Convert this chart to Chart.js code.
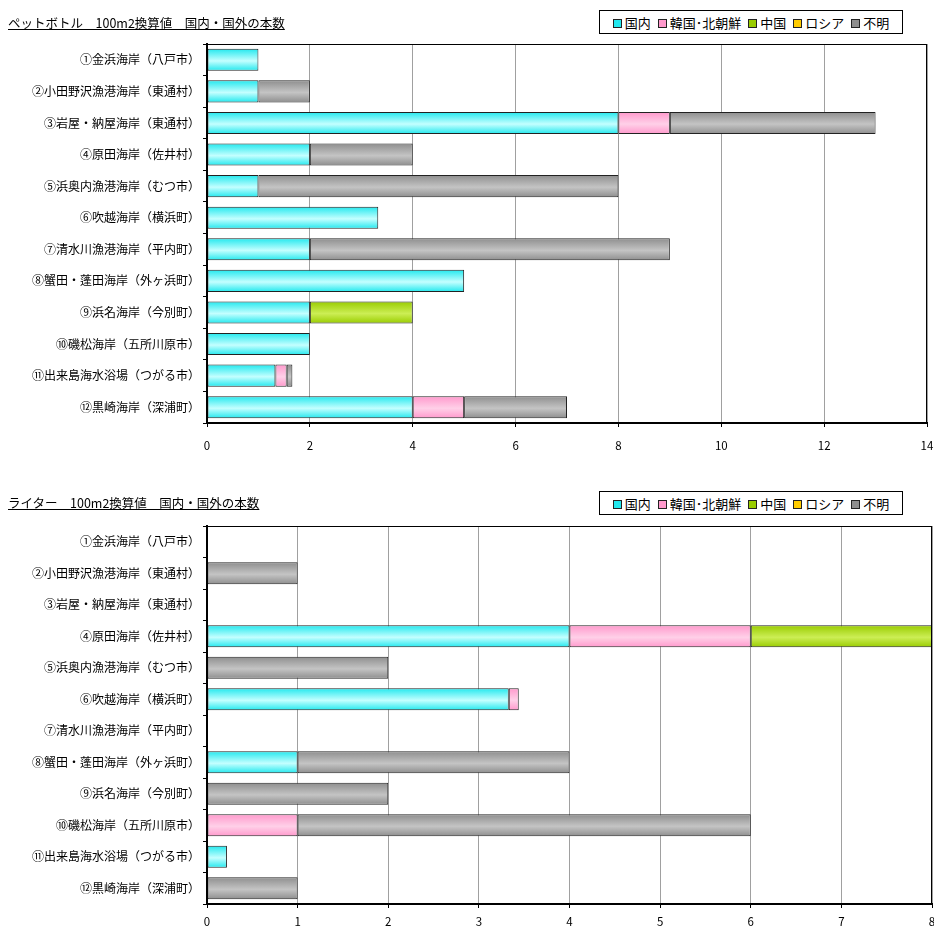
<!DOCTYPE html>
<html>
<head>
<meta charset="utf-8">
<script src="https://cdn.jsdelivr.net/npm/chart.js@4"></script>
<style>
  body { margin: 0; background: #fff; font-family: "Noto Sans CJK JP", sans-serif; overflow: hidden; }
  #page { position: relative; width: 934px; height: 930px; }
  .box { position: absolute; left: 0; width: 934px; height: 465px; }
  .title { position: absolute; left: 8px; font-size: 12.5px; text-decoration: underline; color: #000; white-space: pre; }
  .legend { position: absolute; left: 599px; width: 302px; height: 22px; border: 1px solid #000;
            font-size: 13px; display: flex; align-items: center; justify-content: center; gap: 7px; background: #fff; }
  .legend span.sq { display: inline-block; width: 7px; height: 7px; border: 1px solid #222; margin-right: 3px; vertical-align: 0px; }
</style>
</head>
<body>
<div id="page">
  <div class="box" style="top:0"><canvas id="petChart"></canvas></div>
  <div class="box" style="top:465px"><canvas id="lighterChart"></canvas></div>
  <div class="title" style="top:13px">ペットボトル　100m2換算値　国内・国外の本数</div>
  <div class="title" style="top:493px">ライター　100m2換算値　国内・国外の本数</div>
  <div class="legend" id="legend1" style="top:10px"></div>
  <div class="legend" id="legend2" style="top:491px"></div>
</div>
<script>
// categories (survey sites)
const sites = [
  "①金浜海岸（八戸市）",
  "②小田野沢漁港海岸（東通村）",
  "③岩屋・納屋海岸（東通村）",
  "④原田海岸（佐井村）",
  "⑤浜奥内漁港海岸（むつ市）",
  "⑥吹越海岸（横浜町）",
  "⑦清水川漁港海岸（平内町）",
  "⑧蟹田・蓬田海岸（外ヶ浜町）",
  "⑨浜名海岸（今別町）",
  "⑩磯松海岸（五所川原市）",
  "⑪出来島海水浴場（つがる市）",
  "⑫黒崎海岸（深浦町）"
];
const origins = ["国内", "韓国･北朝鮮", "中国", "ロシア", "不明"];

// ペットボトル values
const petDomestic = [1, 1, 8, 2, 1, 3.33, 2, 5, 2, 2, 1.33, 4];
const petKorea    = [0, 0, 1, 0, 0, 0, 0, 0, 0, 0, 0.22, 1];
const petChina    = [0, 0, 0, 0, 0, 0, 0, 0, 2, 0, 0, 0];
const petRussia   = [0, 0, 0, 0, 0, 0, 0, 0, 0, 0, 0, 0];
const petUnknown  = [0, 1, 4, 2, 7, 0, 7, 0, 0, 0, 0.11, 2];
const petTicks = [0, 2, 4, 6, 8, 10, 12, 14];

// ライター values
const ltDomestic = [0, 0, 0, 4, 0, 3.33, 0, 1, 0, 0, 0.22, 0];
const ltKorea    = [0, 0, 0, 2, 0, 0.11, 0, 0, 0, 1, 0, 0];
const ltChina    = [0, 0, 0, 2, 0, 0, 0, 0, 0, 0, 0, 0];
const ltRussia   = [0, 0, 0, 0, 0, 0, 0, 0, 0, 0, 0, 0];
const ltUnknown  = [0, 1, 0, 0, 2, 0, 0, 3, 2, 5, 0, 1];
const ltTicks = [0, 1, 2, 3, 4, 5, 6, 7, 8];

// base colour, light colour
const colors = [
  ["#22E8EE", "#C4FFFF"],
  ["#FF99CC", "#FFD0E8"],
  ["#99CC00", "#CCEE55"],
  ["#FFCC00", "#FFE680"],
  ["#8E8E8E", "#C4C4C4"]
];

const barPct = 0.7;

function gradient(c) {
  return (ctx) => {
    const chart = ctx.chart;
    const y = chart.scales && chart.scales.y;
    if (!y || ctx.type !== "data") return c[0];
    const cy = y.getPixelForValue(ctx.dataIndex);
    const h = (y.bottom - y.top) / chart.data.labels.length * barPct;
    if (!isFinite(cy) || !isFinite(h) || h <= 0) return c[0];
    const g = chart.ctx.createLinearGradient(0, cy - h / 2, 0, cy + h / 2);
    g.addColorStop(0, c[0]);
    g.addColorStop(0.55, c[1]);
    g.addColorStop(1, c[0]);
    return g;
  };
}

// plot frame on top & right
const framePlugin = {
  id: "frame",
  afterDraw(chart) {
    const a = chart.chartArea, c = chart.ctx;
    c.save();
    c.strokeStyle = "#000";
    c.lineWidth = 1;
    c.strokeRect(a.left + 0.5, a.top + 0.5, a.right - a.left - 1, a.bottom - a.top);
    c.restore();
  }
};

function makeChart(id, series, ticks, max, pad, xHeight, tickPad) {
  const datasets = series.map((d, i) => ({
    label: origins[i],
    data: d,
    backgroundColor: gradient(colors[i]),
    borderColor: "#222",
    borderWidth: (ctx) => (ctx.raw > 0 ? 1 : 0),
    borderSkipped: false,
    categoryPercentage: 1,
    barPercentage: barPct
  }));
  const chart = new Chart(document.getElementById(id), {
    type: "bar",
    data: { labels: sites, datasets: datasets },
    options: {
      indexAxis: "y",
      responsive: true,
      maintainAspectRatio: false,
      animation: false,
      layout: { padding: pad },
      plugins: { legend: { display: false }, tooltip: { enabled: false } },
      scales: {
        x: {
          stacked: true,
          min: 0,
          max: max,
          afterBuildTicks: (s) => { s.ticks = ticks.map(v => ({ value: v })); },
          afterFit: (s) => { s.height = xHeight; s.paddingRight = 0; s.paddingLeft = 0; },
          grid: { color: "#A0A0A0", lineWidth: 1, tickLength: 4, tickColor: "#000" },
          border: { color: "#000", width: 2 },
          ticks: { color: "#000", font: { size: 11.5, family: "Noto Sans CJK JP" }, padding: tickPad }
        },
        y: {
          stacked: true,
          afterFit: (s) => { s.width = 207; },
          grid: { offset: true, drawOnChartArea: false, tickLength: 4, tickColor: "#000" },
          border: { color: "#000", width: 2 },
          ticks: { color: "#000", font: { size: 12, family: "Noto Sans CJK JP" }, padding: 3 }
        }
      }
    },
    plugins: [framePlugin]
  });
  chart.update();
  return chart;
}

function buildLegend(id) {
  const el = document.getElementById(id);
  el.innerHTML = origins.map((o, i) =>
    `<span><span class="sq" style="background:${colors[i][0]}"></span>${o}</span>`).join("");
}

window.onload = () => {
  buildLegend("legend1");
  buildLegend("legend2");
  makeChart("petChart", [petDomestic, petKorea, petChina, petRussia, petUnknown],
    petTicks, 14, { top: 44, right: 7, left: 0, bottom: 0 }, 42, 12);
  makeChart("lighterChart", [ltDomestic, ltKorea, ltChina, ltRussia, ltUnknown],
    ltTicks, 8, { top: 61, right: 2, left: 0, bottom: 0 }, 26, 7);
};
</script>
</body>
</html>
